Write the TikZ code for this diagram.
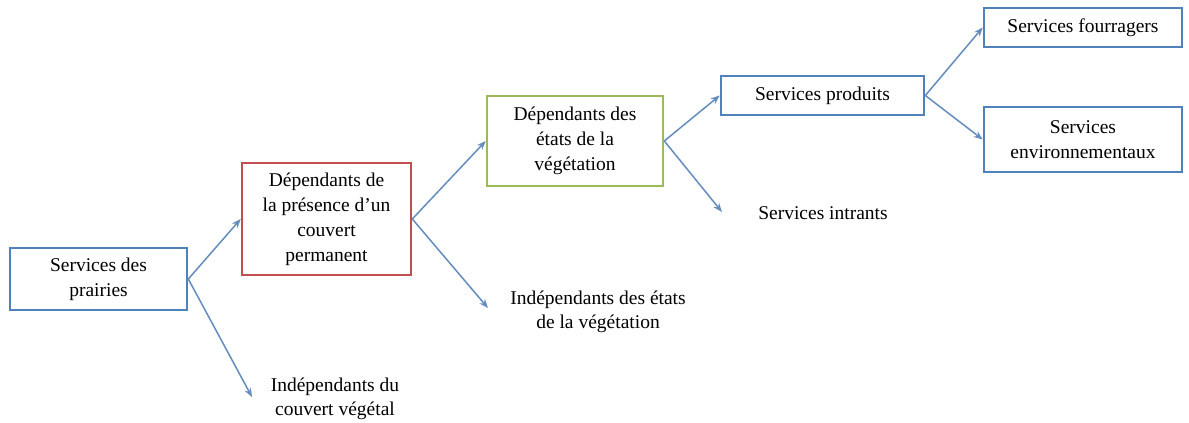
\documentclass[tikz,border=0pt]{standalone}
\usepackage{fontspec}
\setmainfont{Liberation Serif}
\usetikzlibrary{arrows.meta}
\definecolor{cblue}{RGB}{79,129,189}
\definecolor{cred}{RGB}{192,80,77}
\definecolor{cgreen}{RGB}{155,187,89}
\definecolor{carrow}{RGB}{100,140,190}
\tikzset{
  boxbase/.style={draw, line width=2.6pt, align=center, inner sep=0pt,
    font=\fontsize{19.5}{25}\selectfont, text=black},
  bluebox/.style={boxbase, draw=cblue},
  redbox/.style={boxbase, draw=cred},
  greenbox/.style={boxbase, draw=cgreen},
  plainlabel/.style={align=center, inner sep=0pt,
    font=\fontsize{19.5}{24}\selectfont, text=black},
  conn/.style={draw=carrow, line width=1.5pt, -{Stealth[length=9pt,width=7pt]}}
}
\begin{document}
\begin{tikzpicture}[x=1pt,y=-1pt]
\useasboundingbox (0,0) rectangle (1189,423);
\node[bluebox, minimum width=177pt, minimum height=62pt] (b1) at (98.5,279) {Services des\\prairies};
\node[redbox, minimum width=169pt, minimum height=112pt] (b2) at (326.5,219) {Dépendants de\\la présence d’un\\couvert\\permanent};
\node[greenbox, minimum width=176pt, minimum height=90pt] (b3) at (575,141) {Dépendants des\\états de la\\végétation};
\node[bluebox, minimum width=203pt, minimum height=39pt] (b4) at (822.5,95.5) {Services produits};
\node[bluebox, minimum width=198pt, minimum height=39pt] (b5) at (1083,27.5) {Services fourragers};
\node[bluebox, minimum width=198pt, minimum height=65pt] (b6) at (1083,139.5) {Services\\environnementaux};
\node[plainlabel] (t1) at (335,399) {Indépendants du\\couvert végétal};
\node[plainlabel] (t2) at (598,312) {Indépendants des états\\de la végétation};
\node[plainlabel] (t3) at (823,213) {Services intrants};
\coordinate (e1) at (252,397);
\coordinate (e2) at (488,308);
\coordinate (e3) at (722,212);
\draw[conn] (b1.east) -- (b2.west);
\draw[conn] (b1.east) -- (e1);
\draw[conn] (b2.east) -- (b3.west);
\draw[conn] (b2.east) -- (e2);
\draw[conn] (b3.east) -- (b4.west);
\draw[conn] (b3.east) -- (e3);
\draw[conn] (b4.east) -- (b5.west);
\draw[conn] (b4.east) -- (b6.west);
\end{tikzpicture}
\end{document}
